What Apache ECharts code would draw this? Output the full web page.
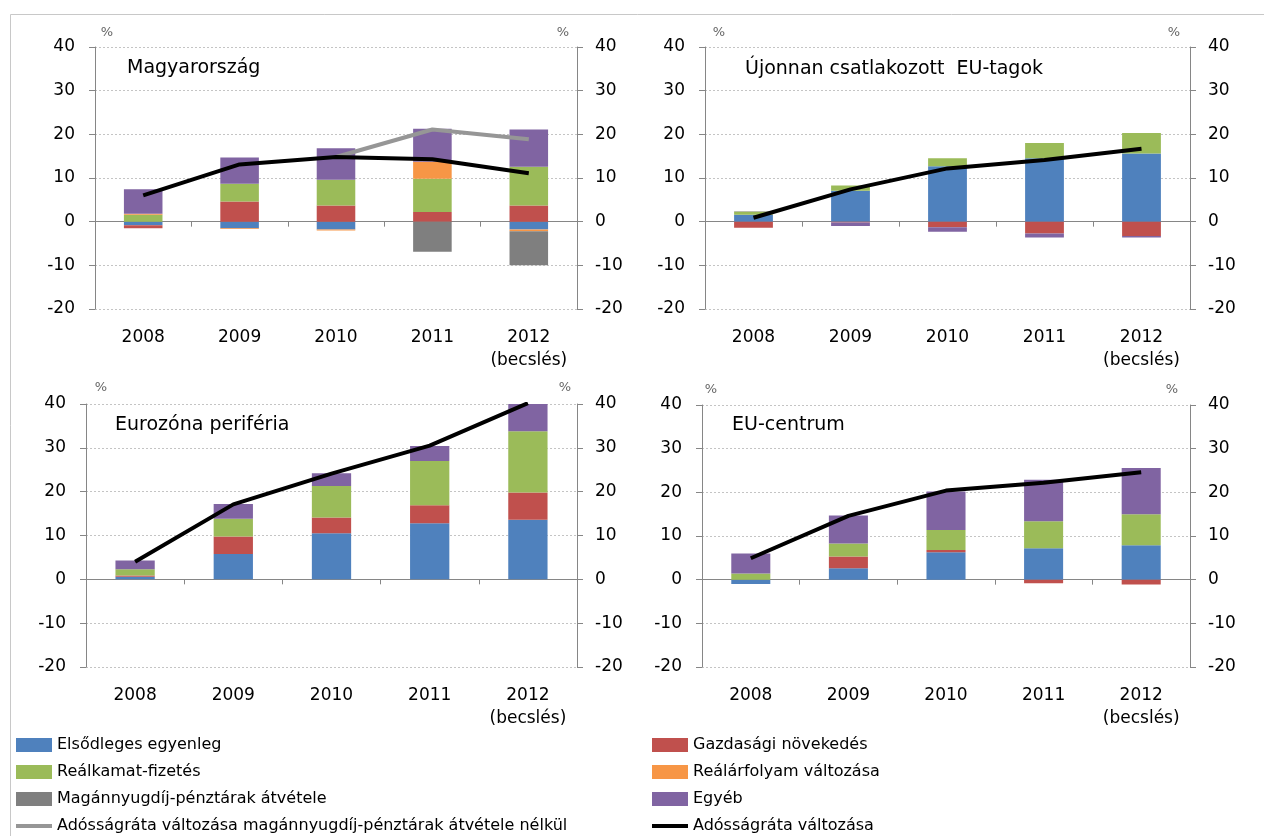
<!DOCTYPE html>
<html>
<head>
<meta charset="utf-8">
<script src="https://cdn.jsdelivr.net/npm/echarts@6/dist/echarts.min.js"></script>
<style>
    html, body { margin: 0; padding: 0; background: #fff; }
    #chart { width: 1264px; height: 836px; }
</style>
</head>
<body>
<div id="chart"></div>
<script>
var years = ['2008', '2009', '2010', '2011', '2012\n(becslés)']
var y_ticks = { min: -20, max: 40, interval: 10 }

var names = ['Elsődleges egyenleg', 'Gazdasági növekedés', 'Reálkamat-fizetés',
    'Reálárfolyam változása', 'Magánnyugdíj-pénztárak átvétele', 'Egyéb']
var line_gray_name = 'Adósságráta változása magánnyugdíj-pénztárak átvétele nélkül'
var line_black_name = 'Adósságráta változása'

// Magyarország
var hu_primary  = [-0.8, -1.5, -1.8, 0, -1.8]
var hu_growth   = [-0.7, 4.6, 3.7, 2.2, 3.7]
var hu_interest = [1.6, 4.1, 5.9, 7.6, 8.9]
var hu_fx       = [0.2, -0.2, -0.2, 3.9, -0.4]
var hu_pension  = [0, 0, 0, -6.9, -7.8]
var hu_other    = [5.6, 6.0, 7.2, 7.6, 8.5]
var hu_debt_ex  = [null, null, 14.8, 21.1, 18.9]
var hu_debt     = [6.0, 13.1, 14.8, 14.3, 11.1]

// Újonnan csatlakozott EU-tagok
var nm_primary  = [1.6, 7.1, 12.7, 14.5, 15.6]
var nm_growth   = [-1.4, -0.2, -1.3, -2.7, -3.3]
var nm_interest = [0.7, 1.2, 1.8, 3.5, 4.7]
var nm_other    = [0.1, -0.8, -1.0, -0.9, -0.3]
var nm_debt     = [0.9, 7.4, 12.2, 14.1, 16.7]

// Eurozóna periféria
var ep_primary  = [0.6, 5.8, 10.5, 12.8, 13.6]
var ep_growth   = [0.3, 4.0, 3.6, 4.1, 6.2]
var ep_interest = [1.4, 4.0, 7.2, 10.1, 14.0]
var ep_other    = [2.0, 3.4, 2.9, 3.4, 6.2]
var ep_debt     = [4.0, 17.1, 24.1, 30.5, 40.2]

// EU-centrum
var ec_primary  = [-1.0, 2.6, 6.3, 7.2, 7.9]
var ec_growth   = [0, 2.7, 0.5, -0.8, -1.1]
var ec_interest = [1.4, 3.0, 4.6, 6.2, 7.1]
var ec_other    = [4.6, 6.4, 8.8, 9.5, 10.6]
var ec_debt     = [4.9, 14.6, 20.4, 22.2, 24.6]

var colors = ['#4f81bd', '#c0504d', '#9bbb59', '#f79646', '#7f7f7f', '#8064a2']
var font = 'DejaVu Sans'
var line_icon = 'path://M0,0 L36,0 L36,4 L0,4 Z'

var panels = [
    { title: 'Magyarország', grid: { left: 95, top: 47, width: 482, height: 262 }, title_pos: [127, 59],
      bars: [hu_primary, hu_growth, hu_interest, hu_fx, hu_pension, hu_other], gray: hu_debt_ex, black: hu_debt,
      pct: [[107, 33], [563, 33]] },
    { title: 'Újonnan csatlakozott  EU-tagok', grid: { left: 705, top: 47, width: 485, height: 262 }, title_pos: [745, 60],
      bars: [nm_primary, nm_growth, nm_interest, null, null, nm_other], black: nm_debt,
      pct: [[719, 33], [1174, 33]] },
    { title: 'Eurozóna periféria', grid: { left: 86, top: 404, width: 491, height: 263 }, title_pos: [115, 416],
      bars: [ep_primary, ep_growth, ep_interest, null, null, ep_other], black: ep_debt,
      pct: [[101, 388], [565, 388]] },
    { title: 'EU-centrum', grid: { left: 702, top: 405, width: 488, height: 262 }, title_pos: [732, 416],
      bars: [ec_primary, ec_growth, ec_interest, null, null, ec_other], black: ec_debt,
      pct: [[711, 390], [1172, 390]] }
]

function build_option()
{
    var grids = [], x_axes = [], y_axes = [], series = [], titles = []
    var graphics = [{
        type: 'rect', left: 8, top: 12, silent: true,
        shape: { x: 0, y: 0, width: 1300, height: 900 },
        style: { fill: 'none', stroke: '#c8c8c8', lineWidth: 1 }
    }]

    for (var i = 0; i < panels.length; i++) {
        var p = panels[i]
        grids.push(p.grid)
        titles.push({
            text: p.title, left: p.title_pos[0], top: p.title_pos[1], padding: 0,
            textStyle: { fontFamily: font, fontSize: 19, fontWeight: 'normal', color: '#000' }
        })
        // labels at the bottom
        x_axes.push({
            type: 'category', gridIndex: i, data: years, position: 'bottom',
            axisLine: { show: false, onZero: false }, axisTick: { show: false },
            axisLabel: { interval: 0, fontFamily: font, fontSize: 17, color: '#000', margin: 17, lineHeight: 23 }
        })
        // zero line with ticks between the years
        x_axes.push({
            type: 'category', gridIndex: i, data: years, position: 'top',
            axisLine: { onZero: true, lineStyle: { color: '#868686', width: 1 } },
            axisTick: { show: true, inside: true, length: 5, lineStyle: { color: '#868686' } },
            axisLabel: { show: false }
        })
        var y_base = {
            type: 'value', gridIndex: i, min: y_ticks.min, max: y_ticks.max, interval: y_ticks.interval,
            axisLine: { show: true, lineStyle: { color: '#868686' } },
            axisTick: { show: true, length: 6, lineStyle: { color: '#868686' } },
            axisLabel: { fontFamily: font, fontSize: 17, color: '#000', margin: 18 }
        }
        y_axes.push(Object.assign({}, y_base, {
            position: 'left',
            splitLine: { show: true, lineStyle: { color: '#c4c4c4', type: [2, 2] } },
            axisLabel: Object.assign({}, y_base.axisLabel, { margin: 20 })
        }))
        y_axes.push(Object.assign({}, y_base, { position: 'right', splitLine: { show: false } }))

        for (var k = 0; k < names.length; k++) {
            if (!p.bars[k]) continue
            series.push({
                name: names[k], type: 'bar', stack: 'p' + i, barWidth: '40%',
                xAxisIndex: 2 * i, yAxisIndex: 2 * i,
                itemStyle: { color: colors[k] },
                data: p.bars[k]
            })
        }
        if (p.gray) {
            series.push({
                name: line_gray_name, type: 'line', xAxisIndex: 2 * i, yAxisIndex: 2 * i,
                symbol: 'none', z: 5, lineStyle: { color: '#969696', width: 4 }, itemStyle: { color: '#969696' },
                data: p.gray
            })
        }
        series.push({
            name: line_black_name, type: 'line', xAxisIndex: 2 * i, yAxisIndex: 2 * i,
            symbol: 'none', z: 6, lineStyle: { color: '#000', width: 4 }, itemStyle: { color: '#000' },
            data: p.black
        })
        for (var j = 0; j < 2; j++) {
            graphics.push({
                type: 'text', x: p.pct[j][0], y: p.pct[j][1], silent: true,
                style: { text: '%', font: '13px "DejaVu Sans"', fill: '#666', align: 'center', verticalAlign: 'middle' }
            })
        }
    }

    var legend_text = { fontFamily: font, fontSize: 16, color: '#000' }
    var legends = [
        {
            orient: 'vertical', left: 16, top: 737, itemWidth: 36, itemHeight: 14, itemGap: 11, padding: 0,
            textStyle: legend_text, selectedMode: false, symbolKeepAspect: true,
            data: [
                { name: names[0], icon: 'rect' },
                { name: names[2], icon: 'rect' },
                { name: names[4], icon: 'rect' },
                { name: line_gray_name, icon: line_icon }
            ]
        },
        {
            orient: 'vertical', left: 652, top: 737, itemWidth: 36, itemHeight: 14, itemGap: 11, padding: 0,
            textStyle: legend_text, selectedMode: false, symbolKeepAspect: true,
            data: [
                { name: names[1], icon: 'rect' },
                { name: names[3], icon: 'rect' },
                { name: names[5], icon: 'rect' },
                { name: line_black_name, icon: line_icon }
            ]
        }
    ]

    return {
        animation: false,
        backgroundColor: '#fff',
        textStyle: { fontFamily: font },
        title: titles,
        legend: legends,
        grid: grids,
        xAxis: x_axes,
        yAxis: y_axes,
        series: series,
        graphic: graphics
    }
}

var chart = echarts.init(document.getElementById('chart'))
chart.setOption(build_option())
</script>
</body>
</html>
